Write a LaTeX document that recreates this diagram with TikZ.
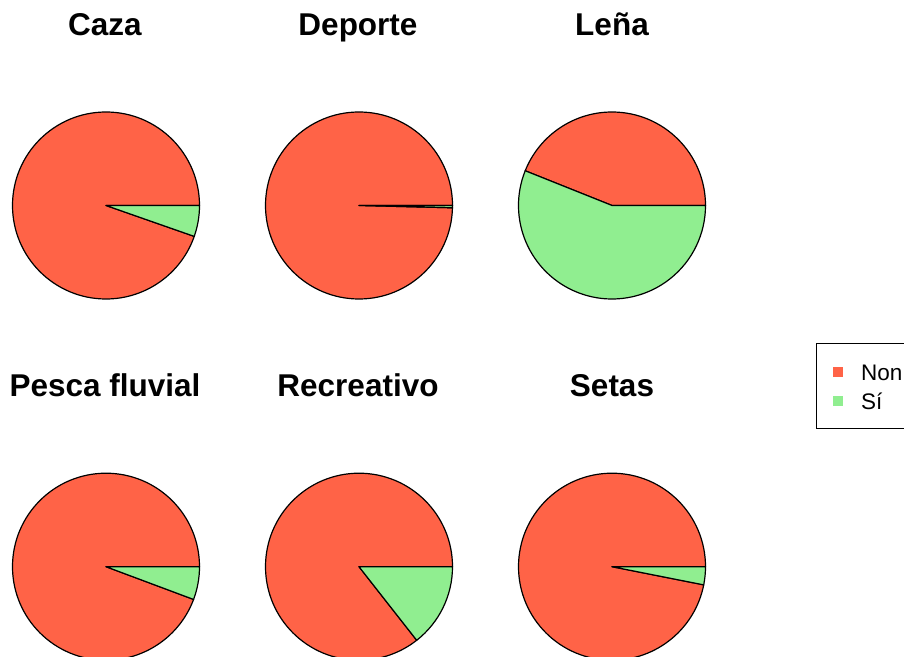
\documentclass[tikz,border=0pt]{standalone}
\usepackage{fontspec}
\setmainfont{Liberation Sans}
\usetikzlibrary{calc}

\definecolor{tomato}{HTML}{FF6347}
\definecolor{lightgreen}{HTML}{90EE90}
\tikzset{
  ptitle/.style={anchor=base, font=\fontsize{31.5}{36}\selectfont\bfseries},
  legtext/.style={anchor=base west, font=\fontsize{22.5}{26}\selectfont},
  slice/.style={draw=black, line width=1.2pt, line join=round}
}

\begin{document}
\begin{tikzpicture}[x=1pt, y=1pt]
\useasboundingbox (0, 0) rectangle (904, 656);
\clip (0, 0) rectangle (904, 656);

\coordinate (caza) at (106, 450.5);
\coordinate (deporte) at (359, 450.5);
\coordinate (lena) at (612, 450.5);
\coordinate (pesca) at (106, 89.3);
\coordinate (recreativo) at (359, 89.3);
\coordinate (setas) at (612, 89.3);

\filldraw[slice, fill=tomato] (caza) -- ++(0:93.5pt) arc[start angle=0, end angle=340.7, radius=93.5pt] -- cycle;
\filldraw[slice, fill=lightgreen] (caza) -- ++(340.7:93.5pt) arc[start angle=340.7, end angle=360, radius=93.5pt] -- cycle;

\filldraw[slice, fill=tomato] (deporte) -- ++(0:93.5pt) arc[start angle=0, end angle=358.6, radius=93.5pt] -- cycle;
\filldraw[slice, fill=lightgreen] (deporte) -- ++(358.6:93.5pt) arc[start angle=358.6, end angle=360, radius=93.5pt] -- cycle;

\filldraw[slice, fill=tomato] (lena) -- ++(0:93.5pt) arc[start angle=0, end angle=158.2, radius=93.5pt] -- cycle;
\filldraw[slice, fill=lightgreen] (lena) -- ++(158.2:93.5pt) arc[start angle=158.2, end angle=360, radius=93.5pt] -- cycle;

\filldraw[slice, fill=tomato] (pesca) -- ++(0:93.5pt) arc[start angle=0, end angle=339.5, radius=93.5pt] -- cycle;
\filldraw[slice, fill=lightgreen] (pesca) -- ++(339.5:93.5pt) arc[start angle=339.5, end angle=360, radius=93.5pt] -- cycle;

\filldraw[slice, fill=tomato] (recreativo) -- ++(0:93.5pt) arc[start angle=0, end angle=308.1, radius=93.5pt] -- cycle;
\filldraw[slice, fill=lightgreen] (recreativo) -- ++(308.1:93.5pt) arc[start angle=308.1, end angle=360, radius=93.5pt] -- cycle;

\filldraw[slice, fill=tomato] (setas) -- ++(0:93.5pt) arc[start angle=0, end angle=348.8, radius=93.5pt] -- cycle;
\filldraw[slice, fill=lightgreen] (setas) -- ++(348.8:93.5pt) arc[start angle=348.8, end angle=360, radius=93.5pt] -- cycle;

% titles
\node[ptitle] (tcaza) at (105, 620) {Caza};
\node[ptitle] (tdeporte) at (358, 620) {Deporte};
\node[ptitle] (tlena) at (612, 620) {Leña};
\node[ptitle] (tpesca) at (105, 259) {Pesca fluvial};
\node[ptitle] (trecreativo) at (358, 259) {Recreativo};
\node[ptitle] (tsetas) at (612, 259) {Setas};

% legend
\draw[line width=0.9pt] (816, 228) rectangle (930, 313);
\fill[tomato] (832.5, 279) rectangle (843, 289);
\fill[lightgreen] (832.5, 250) rectangle (843, 260);
\node[legtext] (lnon) at (857.5, 275) {Non};
\node[legtext] (lsi) at (857.5, 246) {Sí};
\end{tikzpicture}
\end{document}
